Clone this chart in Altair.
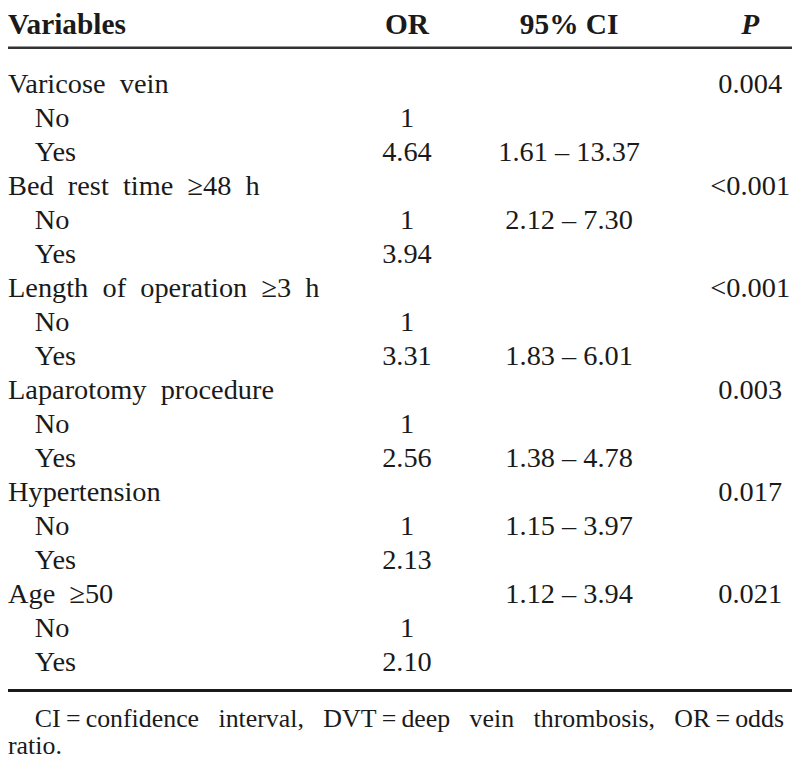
import altair as alt
import pandas as pd

# ---- data -----------------------------------------------------------------
headers = ["Variables", "OR", "95% CI", "P"]

variables = [
    "Varicose vein", "No", "Yes",
    "Bed rest time ≥48 h", "No", "Yes",
    "Length of operation ≥3 h", "No", "Yes",
    "Laparotomy procedure", "No", "Yes",
    "Hypertension", "No", "Yes",
    "Age ≥50", "No", "Yes",
]
indent = [0, 1, 1, 0, 1, 1, 0, 1, 1, 0, 1, 1, 0, 1, 1, 0, 1, 1]
odds_ratio = ["", "1", "4.64", "", "1", "3.94", "", "1", "3.31",
              "", "1", "2.56", "", "1", "2.13", "", "1", "2.10"]
conf_int = ["", "", "1.61 – 13.37", "", "2.12 – 7.30", "", "", "", "1.83 – 6.01",
            "", "", "1.38 – 4.78", "", "1.15 – 3.97", "", "1.12 – 3.94", "", ""]
p_values = ["0.004", "", "", "<0.001", "", "", "<0.001", "", "",
            "0.003", "", "", "0.017", "", "", "0.021", "", ""]
WS = "\u2002\u2005"
footnote = [
    "CI\u2009=\u2009confidence" + WS + "interval," + WS + "DVT\u2009=\u2009deep" + WS
    + "vein" + WS + "thrombosis," + WS + "OR\u2009=\u2009odds",
    "ratio.",
]

# ---- layout ---------------------------------------------------------------
W, H = 788, 752
FONT = "Liberation Serif"
INK = "#1a1a1a"
BODY = 28.5
HEAD = 29.5

df = pd.DataFrame({
    "row": list(range(len(variables))),
    "variable": [v.replace(" ", "\u2002") for v in variables],
    "indent": indent,
    "OR": odds_ratio,
    "CI": conf_int,
    "P": p_values,
})

yscale = alt.Scale(domain=[0, len(variables) - 1], range=[84, 664])
ybase = alt.Y("row:Q", scale=yscale, axis=None)

X_OR, X_CI, X_P = 401, 564, 746

base = alt.Chart(df)

def body_text(align, x, field, filt=None):
    c = base
    if filt is not None:
        c = c.transform_filter(filt)
    return c.mark_text(align=align, baseline="alphabetic", font=FONT,
                       fontSize=BODY, color=INK).encode(
        x=alt.value(x), y=ybase, text=f"{field}:N")

main_lbl = body_text("left", 0, "variable", alt.datum.indent == 0)
sub_lbl = body_text("left", 27, "variable", alt.datum.indent == 1)
or_col = body_text("center", X_OR, "OR")
ci_col = body_text("center", X_CI, "CI")
p_col = body_text("center", X_P, "P")

def header(i, align, x, style="normal"):
    return alt.Chart(pd.DataFrame({"t": [headers[i]]})).mark_text(
        align=align, baseline="alphabetic", font=FONT, fontSize=HEAD,
        fontWeight="bold", fontStyle=style, color=INK).encode(
        x=alt.value(x), y=alt.value(24), text="t:N")

h0 = header(0, "left", 0)
h1 = header(1, "center", X_OR)
h2 = header(2, "center", X_CI)
h3 = header(3, "center", X_P, "italic")

rules_df = pd.DataFrame({"pos": ["top", "bottom"]})
top_rule = alt.Chart(rules_df).transform_filter(alt.datum.pos == "top").mark_rule(
    color="#333333", strokeWidth=2.5).encode(
    x=alt.value(0), x2=alt.value(W), y=alt.value(38))
bottom_rule = alt.Chart(rules_df).transform_filter(alt.datum.pos == "bottom").mark_rule(
    color="#1a1a1a", strokeWidth=3).encode(
    x=alt.value(0), x2=alt.value(W), y=alt.value(684))

foot_df = pd.DataFrame({"line": [0, 1], "t": footnote})
foot1 = alt.Chart(foot_df).transform_filter(alt.datum.line == 0).mark_text(
    align="left", baseline="alphabetic", font=FONT, fontSize=26, color=INK).encode(
    x=alt.value(27), y=alt.value(721), text="t:N")
foot2 = alt.Chart(foot_df).transform_filter(alt.datum.line == 1).mark_text(
    align="left", baseline="alphabetic", font=FONT, fontSize=26, color=INK).encode(
    x=alt.value(0), y=alt.value(748), text="t:N")

chart = alt.layer(
    top_rule, bottom_rule, h0, h1, h2, h3,
    main_lbl, sub_lbl, or_col, ci_col, p_col, foot1, foot2,
).properties(
    width=W, height=H, padding=0, autosize=alt.AutoSizeParams(type="none"),
    background="white",
).configure_view(stroke=None)

chart.save("out.html", embed_options={"renderer": "svg", "actions": False})
